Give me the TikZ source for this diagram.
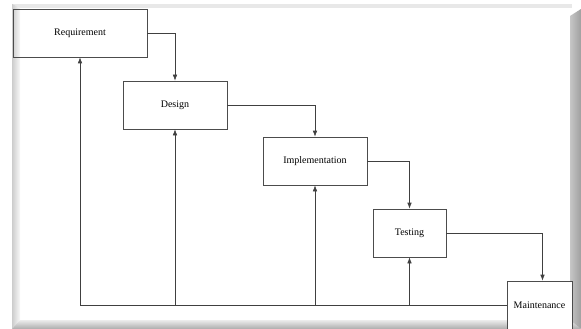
\documentclass[tikz,border=0pt]{standalone}
\usepackage{fontspec}
\setmainfont{Liberation Serif}
\usetikzlibrary{arrows.meta}
\begin{document}
\begin{tikzpicture}[x=1pt,y=-1pt,
  stage/.style={draw=black!70,line width=0.6pt,minimum height=48pt,inner sep=0pt,font=\fontsize{10}{12}\selectfont},
  arr/.style={draw=black!75,line width=0.6pt,-{Latex[length=6pt,width=4.5pt]}},
  link/.style={draw=black!75,line width=0.6pt}]
\useasboundingbox (0,0) rectangle (581,329);
\fill[white] (0,0) rectangle (581,329);
% frame bevel
\fill[gray!18] (12,4) rectangle (572,8);
\shade[left color=gray!40,right color=gray!5] (12,4) -- (20,8) -- (20,320) -- (12,329) -- cycle;
\shade[top color=gray!15,bottom color=gray!65] (12,329) -- (20,320) -- (570,320) -- (581,329) -- cycle;
\shade[left color=gray!45,right color=gray!75] (570,16) -- (581,9) -- (581,329) -- (570,320) -- cycle;
% stages
\node[stage,minimum width=134pt] (req) at (80,33) {Requirement};
\node[stage,fill=white,minimum width=104pt] (des) at (175,105) {Design};
\node[stage,fill=white,minimum width=104pt] (imp) at (315,161) {Implementation};
\node[stage,fill=white,minimum width=73pt] (tes) at (409.5,233) {Testing};
\node[stage,fill=white,minimum width=65pt,minimum height=49pt] (mai) at (539.5,305.5) {Maintenance};
% forward flow
\draw[arr] (req.east) -| (des.north);
\draw[arr] (des.east) -| (imp.north);
\draw[arr] (imp.east) -| (tes.north);
\draw[arr] (tes.east) -| ([xshift=3pt]mai.north);
% feedback
\coordinate (fb) at (req.south |- mai.west);
\draw[link] (mai.west) -- (fb);
\draw[arr] (fb) -- (req.south);
\draw[arr] (des.south |- mai.west) -- (des.south);
\draw[arr] (imp.south |- mai.west) -- (imp.south);
\draw[arr] (tes.south |- mai.west) -- (tes.south);
\end{tikzpicture}
\end{document}
